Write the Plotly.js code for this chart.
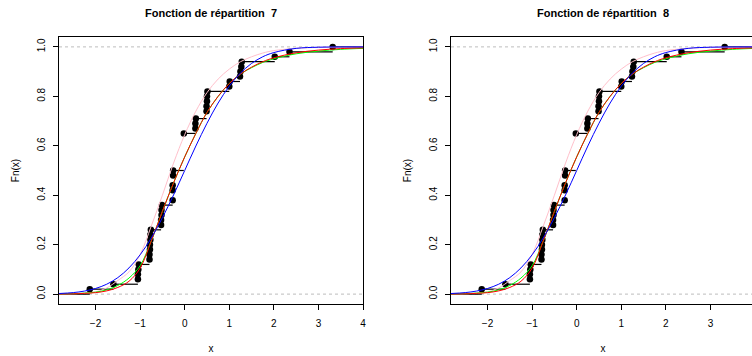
<!DOCTYPE html>
<html>
<head>
<meta charset="utf-8">
<script src="https://cdn.plot.ly/plotly-3.0.1.min.js"></script>
<style>
html,body{margin:0;padding:0;overflow:hidden;background:#fff;}
#plot{width:784px;height:356px;}
</style>
</head>
<body>
<div id="plot"></div>
<script>
const ecdfX = [-2.13, -1.60, -1.05, -1.05, -1.04, -1.03, -0.79, -0.79, -0.78, -0.78, -0.77, -0.77, -0.76,
  -0.53, -0.53, -0.52, -0.52, -0.51, -0.27, -0.27, -0.27, -0.26, -0.26, -0.02,
  0.24, 0.24, 0.25, 0.49, 0.49, 0.50, 0.50, 0.51, 1.00, 1.01, 1.24, 1.25, 1.27, 1.28, 2.02, 2.35, 3.32];
const ecdfY = [0.02, 0.04, 0.06, 0.08, 0.10, 0.12, 0.14, 0.16, 0.18, 0.20, 0.22, 0.24, 0.26,
  0.28, 0.30, 0.32, 0.34, 0.36, 0.38, 0.42, 0.44, 0.48, 0.50, 0.65,
  0.67, 0.69, 0.71, 0.74, 0.76, 0.78, 0.80, 0.82, 0.84, 0.86, 0.88, 0.90, 0.92, 0.94, 0.96, 0.98, 1.00];

// Fitted CDF curves, sampled from the chart
const gridX = [-2.82, -2.5, -2.25, -2, -1.75, -1.5, -1.25, -1, -0.75, -0.5, -0.25, 0, 0.25, 0.5, 0.75, 1, 1.25, 1.5, 1.75, 2, 2.5, 3, 3.5, 4];
const blueF = [0.0024, 0.0062, 0.0122, 0.0228, 0.040, 0.0668, 0.106, 0.159, 0.227, 0.309, 0.401, 0.5, 0.599, 0.691, 0.773, 0.841, 0.894, 0.933, 0.960, 0.977, 0.994, 0.9987, 0.9998, 1.0];
const redF = [0.0005, 0.0012, 0.003, 0.006, 0.013, 0.027, 0.052, 0.105, 0.215, 0.335, 0.45, 0.555, 0.65, 0.735, 0.80, 0.852, 0.89, 0.918, 0.94, 0.956, 0.976, 0.987, 0.993, 0.996];
const greenF = [0.001, 0.002, 0.004, 0.008, 0.017, 0.035, 0.065, 0.115, 0.215, 0.335, 0.45, 0.555, 0.65, 0.735, 0.80, 0.852, 0.89, 0.916, 0.937, 0.952, 0.972, 0.983, 0.99, 0.994];
const pinkF = [0.0005, 0.0015, 0.004, 0.009, 0.025, 0.055, 0.09, 0.16, 0.275, 0.40, 0.53, 0.645, 0.74, 0.815, 0.87, 0.91, 0.94, 0.96, 0.975, 0.985, 0.994, 0.998, 0.999, 1.0];

const panelTitles = ['Fonction de répartition  7', 'Fonction de répartition  8'];
const xTicksLeft = [-2, -1, 0, 1, 2, 3, 4];
const xTicksRight = [-2, -1, 0, 1, 2, 3];
const yTicks = [0, 0.2, 0.4, 0.6, 0.8, 1.0];
const yTickText = ['0.0', '0.2', '0.4', '0.6', '0.8', '1.0'];

// step segments (no verticals)
const segX = [], segY = [];
segX.push(-10, ecdfX[0], null); segY.push(0, 0, null);
for (let i = 0; i < ecdfX.length; i++) {
  const xn = i < ecdfX.length - 1 ? ecdfX[i + 1] : 10;
  if (xn > ecdfX[i]) { segX.push(ecdfX[i], xn, null); segY.push(ecdfY[i], ecdfY[i], null); }
}

const traces = [];
const shapes = [];
const annotations = [];
const layout = {
  width: 784, height: 356,
  margin: {l: 59, r: 29, t: 37, b: 52},
  paper_bgcolor: '#fff', plot_bgcolor: '#fff',
  showlegend: false,
  font: {family: 'Liberation Sans, Arial, sans-serif', color: '#000', size: 10}
};
const domains = [[0, 0.4368], [0.5632, 1]];
['', '2'].forEach((s, k) => {
  const xa = 'x' + s, ya = 'y' + s;
  traces.push({x: segX, y: segY, xaxis: xa, yaxis: ya, mode: 'lines', line: {color: '#000', width: 1.2}, hoverinfo: 'skip'});
  traces.push({x: ecdfX, y: ecdfY, xaxis: xa, yaxis: ya, mode: 'markers', marker: {color: '#000', size: 6.5}});
  traces.push({x: gridX, y: pinkF, xaxis: xa, yaxis: ya, mode: 'lines', line: {color: '#FFC0CB', width: 1, shape: 'spline'}});
  traces.push({x: gridX, y: greenF, xaxis: xa, yaxis: ya, mode: 'lines', line: {color: '#00FF00', width: 1, shape: 'spline'}});
  traces.push({x: gridX, y: redF, xaxis: xa, yaxis: ya, mode: 'lines', line: {color: '#FF0000', width: 1, shape: 'spline'}});
  traces.push({x: gridX, y: blueF, xaxis: xa, yaxis: ya, mode: 'lines', line: {color: '#0000FF', width: 1, shape: 'spline'}});
  const axCommon = {showline: true, mirror: true, linecolor: '#000', linewidth: 1, ticks: 'outside', ticklen: 5, tickcolor: '#000', showgrid: false, zeroline: false, tickfont: {size: 10}};
  layout['xaxis' + s] = Object.assign({}, axCommon, {
    domain: domains[k], range: [-2.82, 4.0], tickvals: k === 0 ? xTicksLeft : xTicksRight, anchor: ya,
    ticklabelstandoff: 5,
    title: {text: 'x', font: {size: 10}, standoff: 16}
  });
  layout['yaxis' + s] = Object.assign({}, axCommon, {
    range: [-0.04, 1.04], tickvals: yTicks, ticktext: yTickText, tickangle: -90, anchor: xa,
    ticklabelstandoff: 4,
    title: {text: 'Fn(x)', font: {size: 10}, standoff: 14}
  });
  [0, 1].forEach(v => shapes.push({type: 'line', xref: xa + ' domain', yref: ya, x0: 0, x1: 1, y0: v, y1: v, line: {color: '#BDBDBD', width: 1, dash: '3px,3px'}, layer: 'below'}));
  annotations.push({text: '<b>' + panelTitles[k] + '</b>', xref: 'paper', yref: 'paper', x: (domains[k][0] + domains[k][1]) / 2, y: 1 + 24 / 267, xanchor: 'center', yanchor: 'middle', showarrow: false, font: {size: 11}});
});
layout.shapes = shapes;
layout.annotations = annotations;
Plotly.newPlot('plot', traces, layout, {displayModeBar: false, staticPlot: true});
</script>
</body>
</html>
